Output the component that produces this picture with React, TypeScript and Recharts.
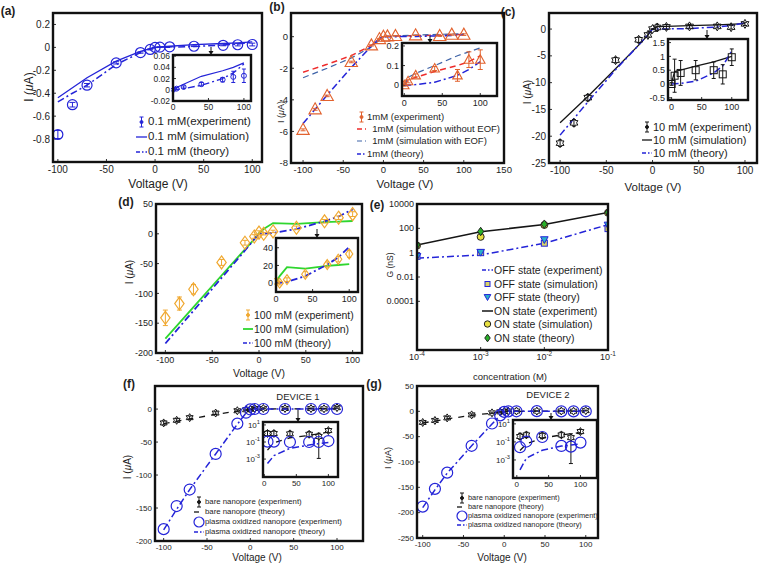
import React from 'react';
import { ComposedChart, Line, Scatter, XAxis, YAxis, ErrorBar } from 'recharts';

const FONT = '"Liberation Sans", Arial, Helvetica, sans-serif';
const INK = '#1e1e1e';
const BLUE = '#2424d8';
const BLACK = '#151515';
const RED = '#ee2b2b';
const ORANGE_RED = '#e2622e';
const STEEL = '#3f64a8';
const ORANGE = '#f0a830';
const GREEN = '#2fd62f';
const DASHDOT = '7 3 2 3';
const DASH = '6 4';

// ---------- shared ticks ----------
const voltTicks = [-100, -50, 0, 50, 100];
const insetVTicks = [0, 50, 100];

// ---------- (a) 0.1 mM ----------
const aExpV = [-100, -85, -70, -40, -15, -5, 0, 5, 15, 40, 70, 85, 100];
const aExpI = [-0.76, -0.5, -0.33, -0.135, -0.045, -0.018, 0, 0.002, 0.005, 0.01, 0.018, 0.023, 0.025];
const aExpErr = [0.035, 0.02, 0.015, 0.01, 0.006, 0.004, 0.002, 0.002, 0.002, 0.003, 0.004, 0.01, 0.012];
const aSimV = [-100, -70, -40, -15, -5, 0, 5, 15, 40, 70, 85, 100];
const aSimI = [-0.44, -0.265, -0.12, -0.035, -0.01, 0, 0.004, 0.01, 0.024, 0.034, 0.04, 0.048];
const aThV = [-100, -85, -70, -40, -15, -5, 0, 5, 15, 40, 70, 85, 100];
const aThI = [-0.475, -0.4, -0.33, -0.15, -0.045, -0.012, 0, 0.0005, 0.002, 0.008, 0.02, 0.03, 0.046];

// ---------- (b) 1 mM ----------
const bExpV = [-100, -85, -70, -40, -15, -5, 0, 5, 15, 40, 70, 85, 100];
const bExpI = [-5.9, -4.6, -3.75, -1.6, -0.55, -0.15, 0, 0.02, 0.05, 0.085, 0.05, 0.13, 0.13];
const bExpErr = [0.06, 0.06, 0.05, 0.05, 0.04, 0.02, 0.005, 0.008, 0.008, 0.01, 0.03, 0.04, 0.05];
const bSimV = [-100, -70, -40, -15, -5, 0, 5, 15, 40, 70, 85, 100];
const bNoEofI = [-2.25, -1.75, -1.2, -0.55, -0.18, 0, 0.027, 0.04, 0.07, 0.1, 0.12, 0.15];
const bEofI = [-2.6, -2.0, -1.35, -0.65, -0.22, 0, 0.04, 0.06, 0.1, 0.15, 0.17, 0.19];
const bThV = [-100, -85, -70, -40, -15, -5, 0, 5, 15, 40, 70, 85, 100];
const bThI = [-5.5, -4.6, -3.7, -1.95, -0.6, -0.12, 0, 0.0005, 0.003, 0.015, 0.05, 0.08, 0.12];
const bXTicks = [-100, -50, 0, 50, 100, 150];

// ---------- (c) 10 mM ----------
const cExpV = [-100, -85, -70, -40, -15, -5, 0, 5, 15, 40, 70, 85, 100];
const cExpI = [-21.3, -17.5, -12.8, -5.8, -2.0, -1.1, 0, 0.3, 0.4, 0.5, 0.5, 0.35, 0.97];
const cExpErr = [0.6, 0.6, 0.6, 0.5, 0.5, 0.4, 0.05, 0.6, 0.45, 0.35, 0.3, 0.35, 0.3];
const cSimV = [-100, -70, -40, -15, -5, 0, 5, 15, 40, 70, 100];
const cSimI = [-17.5, -12.6, -7.4, -3.0, -1.1, 0.05, 0.45, 0.5, 0.65, 0.8, 1.0];
const cThV = [-100, -70, -40, -15, -5, 0, 15, 40, 70, 85, 100];
const cThI = [-19.8, -13.6, -7.6, -3.0, -1.0, 0, 0.02, 0.1, 0.4, 0.65, 1.2];

// ---------- (d) 100 mM ----------
const dExpV = [-100, -85, -70, -40, -15, -5, 0, 5, 15, 40, 70, 85, 100];
const dExpI = [-141, -117, -93, -48, -15, -4.5, 2, 0, 4, 10, 21, 27, 33];
const dExpErr = [13, 11, 8, 5, 4, 3, 3, 2, 2, 3, 3, 3, 4];
const dSimV = [-100, -70, -40, -15, -5, 0, 5, 15, 40, 70, 85, 100];
const dSimI = [-176, -123, -70, -26, -9, 1, 8, 18, 16.5, 19.5, 20.5, 21.5];
const dThV = [-100, -70, -40, -15, -5, 0, 5, 15, 40, 70, 85, 100];
const dThI = [-184, -129, -74, -28, -9, 0, 0.3, 1.5, 8, 21, 29, 41];

// ---------- (e) conductance ----------
const eConc = [1e-4, 1e-3, 1e-2, 1e-1];
const offExp = [0.35, 0.65, 5.9, 200];
const offSim = [0.5, 1.0, 6, 95];
const offTh = [0.5, 1.1, 12, 190];
const onExp = [4.3, 52, 210, 2000];
const onSim = [3.8, 20, 190, 1900];
const onTh = [4.3, 55, 220, 2100];

// ---------- (f), (g) devices ----------
const nV = [-100, -85, -70, -40, -15, -5, 0];
const pV = [5, 15, 40, 70, 85, 100];
const thNV = [-100, -70, -40, -15, -5, 0];

const fBareNeg = [-21, -17, -13, -6, -2.5, -1, -0.3];
const fBareNegErr = [3, 2.5, 2.5, 2, 1.5, 1, 0.5];
const fBarePos = [1.0, 1.0, 0.9, 0.8, 0.45, 2.2];
const fBarePosErr: [number, number][] = [[0.5, 1.2], [0.5, 1.0], [0.4, 0.9], [0.4, 0.8], [0.4488, 0.6], [1.0, 1.5]];
const fBareThNeg = [-22, -15, -8, -3, -1, 0];
const fBareThPos = [0.011, 0.08, 0.3, 0.62, 0.9, 1.5];
const fPlasNeg = [-182, -147, -122, -68, -22, -5.5, -0.5];
const fPlasPos = [0.11, 0.11, 0.1, 0.1, 0.1, 0.13];
const fPlasThNeg = [-183, -152, -122, -68, -23, -6, 0];
const fPlasThPos = [3e-4, 2.5e-3, 0.018, 0.045, 0.065, 0.085];

const gBareNeg = [-22, -18, -13, -7, -3, -1, -0.3];
const gBareNegErr = [3, 2.5, 2.5, 2, 1.5, 1, 0.5];
const gBarePos = [0.4, 0.6, 0.5, 0.6, 0.3, 1.4];
const gBarePosErr: [number, number][] = [[0.2, 0.5], [0.3, 0.6], [0.25, 0.5], [0.3, 0.6], [0.2996, 0.5], [0.6, 1.0]];
const gBareThNeg = [-23, -15, -8, -3.5, -1.2, 0];
const gBareThPos = [0.011, 0.06, 0.26, 0.6, 0.8, 1.1];
const gPlasNeg = [-188, -153, -121, -68, -24, -8, -1];
const gPlasPos = [0.026, 0.11, 0.35, 0.036, 0.03, 0.085];
const gPlasThNeg = [-190, -155, -122, -68, -25, -8, 0];
const gPlasThPos = [8e-5, 1.6e-3, 0.012, 0.035, 0.045, 0.06];

// ---------- helpers ----------
type P = { x: number; y: number; e?: number | [number, number] };
const zip = (xs: number[], ys: number[], es?: (number | [number, number])[]): P[] =>
  xs.map((x, i) => (es ? { x, y: ys[i], e: es[i] } : { x, y: ys[i] }));
const from0 = (p: P[]) => p.filter((d) => d.x >= 0);
const above0 = (p: P[]) => p.filter((d) => d.x > 0);

function Mark({ cx, cy, shape, r, color, fill = 'none', sw = 1 }: any) {
  if (cx == null || cy == null || isNaN(cx) || isNaN(cy)) return null;
  const poly = (pts: number[][]) => (
    <polygon points={pts.map((p) => `${cx + p[0]},${cy + p[1]}`).join(' ')} fill={fill} stroke={color} strokeWidth={sw} />
  );
  switch (shape) {
    case 'circle':
      return <circle cx={cx} cy={cy} r={r} fill={fill} stroke={color} strokeWidth={sw} />;
    case 'square':
      return <rect x={cx - r} y={cy - r} width={2 * r} height={2 * r} fill={fill} stroke={color} strokeWidth={sw} />;
    case 'tri':
      return poly([[0, -r], [r * 0.95, r * 0.7], [-r * 0.95, r * 0.7]]);
    case 'dtri':
      return poly([[0, r], [r * 0.95, -r * 0.7], [-r * 0.95, -r * 0.7]]);
    case 'diamond':
      return poly([[0, -r], [r * 0.72, 0], [0, r], [-r * 0.72, 0]]);
    case 'hex': {
      const pts: number[][] = [];
      for (let k = 0; k < 12; k++) {
        const a = -Math.PI / 2 + (k * Math.PI) / 6;
        const rr = k % 2 === 0 ? r : r * 0.58;
        pts.push([rr * Math.cos(a), rr * Math.sin(a)]);
      }
      return poly(pts);
    }
    default:
      return <circle cx={cx} cy={cy} r={r} fill={color} />;
  }
}

const sup = (v: number, fs: number) => {
  const e = Math.round(Math.log10(v));
  return (
    <>
      10<tspan dy={-fs * 0.45} fontSize={fs * 0.72}>{e}</tspan>
    </>
  );
};

const mkTick = (fs: number, side: 'b' | 'l', fmt?: (v: number, fs: number) => React.ReactNode) => (p: any) => {
  const v = p.payload?.value;
  return (
    <text x={p.x} y={p.y} textAnchor={side === 'b' ? 'middle' : 'end'} dy={side === 'b' ? '0.75em' : '0.35em'} fontSize={fs} fontFamily={FONT} fill={INK}>
      {fmt ? fmt(v, fs) : String(v)}
    </text>
  );
};
const noTick = () => <g />;

type Series =
  | { kind: 'line'; pts: P[]; color: string; dash?: string; w?: number }
  | { kind: 'pts'; pts: P[]; color: string; shape: string; r: number; fill?: string; sw?: number; err?: boolean; cap?: number };

function Plot(pr: {
  x: number; y: number; w: number; h: number;
  xd: [number, number]; yd: [number, number]; xt: number[]; yt: number[];
  xlog?: boolean; ylog?: boolean; fs: number;
  xfmt?: (v: number, fs: number) => React.ReactNode; yfmt?: (v: number, fs: number) => React.ReactNode;
  series: Series[]; mL?: number; mB?: number; mR?: number;
}) {
  const mL = pr.mL ?? 44, mB = pr.mB ?? 20, mT = 9, mR = pr.mR ?? 16;
  const W = pr.w + mL + mR, H = pr.h + mT + mB;
  const xs = pr.xlog ? 'log' : 'linear';
  const ys = pr.ylog ? 'log' : 'linear';
  const tl = { stroke: '#333', strokeWidth: 1 };
  return (
    <div style={{ position: 'absolute', left: pr.x - mL, top: pr.y - mT, width: W, height: H }}>
      <ComposedChart width={W} height={H} margin={{ top: mT, right: mR, bottom: 0, left: 0 }}>
        <XAxis type="number" dataKey="x" domain={pr.xd} ticks={pr.xt} scale={xs} allowDataOverflow interval={0}
          axisLine={false} tickLine={tl} tickSize={-3} tickMargin={6} height={mB} tick={mkTick(pr.fs, 'b', pr.xfmt)} />
        <YAxis type="number" dataKey="y" domain={pr.yd} ticks={pr.yt} scale={ys} allowDataOverflow interval={0}
          axisLine={false} tickLine={tl} tickSize={-3} tickMargin={6} width={mL} tick={mkTick(pr.fs, 'l', pr.yfmt)} />
        <XAxis xAxisId="top" orientation="top" type="number" domain={pr.xd} ticks={pr.xt} scale={xs} allowDataOverflow interval={0}
          axisLine={false} tickLine={tl} tickSize={-3} height={0} tick={noTick} />
        <YAxis yAxisId="right" orientation="right" type="number" domain={pr.yd} ticks={pr.yt} scale={ys} allowDataOverflow interval={0}
          axisLine={false} tickLine={tl} tickSize={-3} width={0} tick={noTick} />
        {pr.series.map((s, i) =>
          s.kind === 'line' ? (
            <Line key={i} data={s.pts} dataKey="y" type="linear" stroke={s.color} strokeWidth={s.w ?? 1.5}
              strokeDasharray={s.dash} dot={false} activeDot={false} isAnimationActive={false} />
          ) : (
            <Scatter key={i} data={s.pts} isAnimationActive={false}
              shape={(p: any) => <Mark cx={p.cx} cy={p.cy} shape={s.shape} r={s.r} color={s.color} fill={s.fill} sw={s.sw} />}>
              {s.err ? <ErrorBar dataKey="e" direction="y" width={s.cap ?? 3} stroke={s.color} strokeWidth={1} /> : null}
            </Scatter>
          )
        )}
      </ComposedChart>
    </div>
  );
}

const Frame = ({ x, y, w, h, sw = 2.4 }: any) => (
  <svg style={{ position: 'absolute', left: x - 4, top: y - 4, overflow: 'visible', pointerEvents: 'none' }} width={w + 8} height={h + 8}>
    <rect x={4} y={4} width={w} height={h} fill="none" stroke="#111" strokeWidth={sw} />
  </svg>
);
const Bg = ({ x, y, w, h }: any) => (
  <div style={{ position: 'absolute', left: x, top: y, width: w, height: h, background: '#fff' }} />
);
const Lab = ({ x, y, fs, children, bold, rot }: any) => (
  <div style={{ position: 'absolute', left: x, top: y, transform: `translate(-50%, -50%)${rot ? ' rotate(-90deg)' : ''}`,
    fontSize: fs, fontWeight: bold ? 700 : 400, lineHeight: 1, whiteSpace: 'pre', color: INK }}>{children}</div>
);
const IuA = () => (<>I (<i>μ</i>A)</>);
const Arrow = ({ x, y1, y2 }: any) => (
  <svg style={{ position: 'absolute', left: x - 4, top: y1, overflow: 'visible' }} width={8} height={y2 - y1}>
    <line x1={4} x2={4} y1={0} y2={y2 - y1 - 3} stroke="#111" strokeWidth={1} />
    <polygon points={`1.5,${y2 - y1 - 4} 6.5,${y2 - y1 - 4} 4,${y2 - y1}`} fill="#111" />
  </svg>
);

type Icon =
  | { t: 'line'; color: string; dash?: string; w?: number }
  | { t: 'mark'; shape: string; color: string; fill?: string; r: number; sw?: number }
  | { t: 'err'; color: string };
const LegendIcon = ({ ic, w }: { ic: Icon; w: number }) => {
  const c = 7;
  return (
    <svg width={w} height={14} style={{ display: 'block', overflow: 'visible' }}>
      {ic.t === 'line' && <line x1={0} x2={w} y1={c} y2={c} stroke={ic.color} strokeWidth={ic.w ?? 1.5} strokeDasharray={ic.dash} />}
      {ic.t === 'mark' && <Mark cx={w / 2} cy={c} shape={ic.shape} r={ic.r} color={ic.color} fill={ic.fill} sw={ic.sw} />}
      {ic.t === 'err' && (
        <g stroke={ic.color} strokeWidth={1}>
          <line x1={w / 2} x2={w / 2} y1={c - 5} y2={c + 5} />
          <line x1={w / 2 - 2} x2={w / 2 + 2} y1={c - 5} y2={c - 5} />
          <line x1={w / 2 - 2} x2={w / 2 + 2} y1={c + 5} y2={c + 5} />
          <circle cx={w / 2} cy={c} r={1.5} fill={ic.color} />
        </g>
      )}
    </svg>
  );
};
function Legend({ x, tx, rows, fs, items }: { x: number; tx: number; rows: number[]; fs: number; items: { icon: Icon; label: string }[] }) {
  return (
    <>
      {items.map((it, i) => (
        <React.Fragment key={i}>
          <div style={{ position: 'absolute', left: x, top: rows[i] - 7, width: tx - x - 1, height: 14 }}>
            <LegendIcon ic={it.icon} w={tx - x - 1} />
          </div>
          <div style={{ position: 'absolute', left: tx, top: rows[i], transform: 'translateY(-50%)', fontSize: fs, lineHeight: 1, whiteSpace: 'pre', color: INK }}>
            {it.label}
          </div>
        </React.Fragment>
      ))}
    </>
  );
}

// ---------- series ----------
const aExp = zip(aExpV, aExpI, aExpErr);
const aSim = zip(aSimV, aSimI);
const aTh = zip(aThV, aThI);
const bExp = zip(bExpV, bExpI, bExpErr);
const bNoEof = zip(bSimV, bNoEofI);
const bEof = zip(bSimV, bEofI);
const bTh = zip(bThV, bThI);
const cExp = zip(cExpV, cExpI, cExpErr);
const cSim = zip(cSimV, cSimI);
const cTh = zip(cThV, cThI);
const dExp = zip(dExpV, dExpI, dExpErr);
const dSim = zip(dSimV, dSimI);
const dTh = zip(dThV, dThI);

const fBare = zip(nV.concat(pV), fBareNeg.concat(fBarePos), (fBareNegErr as (number | [number, number])[]).concat(fBarePosErr));
const fBareTh = zip(thNV.concat(pV), fBareThNeg.concat(fBareThPos));
const fPlas = zip(nV.concat(pV), fPlasNeg.concat(fPlasPos));
const fPlasTh = zip(nV.concat(pV), fPlasThNeg.concat(fPlasThPos));
const gBare = zip(nV.concat(pV), gBareNeg.concat(gBarePos), (gBareNegErr as (number | [number, number])[]).concat(gBarePosErr));
const gBareTh = zip(thNV.concat(pV), gBareThNeg.concat(gBareThPos));
const gPlas = zip(nV.concat(pV), gPlasNeg.concat(gPlasPos));
const gPlasTh = zip(nV.concat(pV), gPlasThNeg.concat(gPlasThPos));

const devSeries = (bare: P[], bareTh: P[], plas: P[], plasTh: P[], inset: boolean): Series[] => [
  { kind: 'line', pts: inset ? above0(bareTh) : bareTh, color: BLACK, dash: '6 6', w: 1.3 },
  { kind: 'pts', pts: inset ? above0(bare) : bare, color: BLACK, shape: 'hex', r: 4, err: true, cap: 2 },
  { kind: 'line', pts: inset ? above0(plasTh) : plasTh, color: BLUE, dash: DASHDOT, w: 1.5 },
  { kind: 'pts', pts: inset ? above0(plas) : plas, color: BLUE, shape: 'circle', r: 5.5, sw: 1.2 },
];

export default function App() {
  return (
    <div style={{ position: 'absolute', left: 0, top: 0, width: 760, height: 566, background: '#fff', overflow: 'hidden', fontFamily: FONT }}>
      {/* ================= (c) first, so (b)'s edge tick label is never covered ================= */}
      <Plot x={549} y={13} w={208} h={150} xd={[-112, 113]} yd={[-25, 3]} xt={voltTicks} yt={[-25, -20, -15, -10, -5, 0]} fs={10} mL={32} mR={3}
        series={[
          { kind: 'line', pts: cSim, color: BLACK, w: 1.3 },
          { kind: 'line', pts: cTh, color: BLUE, dash: DASHDOT, w: 1.5 },
          { kind: 'pts', pts: cExp, color: BLACK, shape: 'hex', r: 4.5, sw: 1, err: true, cap: 2 },
        ]} />
      <Frame x={549} y={13} w={208} h={150} />
      <Bg x={668} y={39} w={80} h={61} />
      <Plot x={668} y={39} w={80} h={61} xd={[-6, 127]} yd={[-0.58, 1.63]} xt={insetVTicks} yt={[-0.5, 0, 0.5, 1, 1.5]} fs={9} mL={26} mB={14} mR={8}
        series={[
          { kind: 'line', pts: from0(cSim), color: BLACK, w: 1.3 },
          { kind: 'line', pts: from0(cTh), color: BLUE, dash: DASHDOT, w: 1.5 },
          { kind: 'pts', pts: from0(cExp), color: BLACK, shape: 'square', r: 3.5, sw: 1, err: true, cap: 2 },
        ]} />
      <Frame x={668} y={39} w={80} h={61} />
      <Arrow x={707} y1={30} y2={39} />
      <Legend x={642} tx={653} rows={[127, 140, 153]} fs={11}
        items={[
          { icon: { t: 'err', color: BLACK }, label: '10 mM (experiment)' },
          { icon: { t: 'line', color: BLACK, w: 1.3 }, label: '10 mM (simulation)' },
          { icon: { t: 'line', color: BLUE, dash: '4 2 1.5 2' }, label: '10 mM (theory)' },
        ]} />
      <Lab x={508} y={12} fs={12} bold>(c)</Lab>
      <Lab x={528} y={92} fs={10} rot><IuA /></Lab>
      <Lab x={653} y={188} fs={11.5}>Voltage (V)</Lab>

      {/* ================= (a) ================= */}
      <Plot x={53} y={13} w={209} h={149} xd={[-105, 110]} yd={[-1, 0.3]} xt={voltTicks} yt={[-0.8, -0.6, -0.4, -0.2, 0, 0.2]} fs={10}
        series={[
          { kind: 'line', pts: aSim, color: BLUE, w: 1.3 },
          { kind: 'line', pts: aTh, color: BLUE, dash: DASHDOT, w: 1.5 },
          { kind: 'pts', pts: aExp, color: BLUE, shape: 'circle', r: 5, sw: 1.2, err: true, cap: 3 },
        ]} />
      <Frame x={53} y={13} w={209} h={149} />
      <Bg x={173} y={55} w={78} h={46} />
      <Plot x={173} y={55} w={78} h={46} xd={[0, 110]} yd={[-0.02, 0.062]} xt={insetVTicks} yt={[-0.02, 0, 0.02, 0.04, 0.06]} fs={8.5} mL={28} mB={14}
        series={[
          { kind: 'line', pts: from0(aSim), color: BLUE, w: 1.2 },
          { kind: 'line', pts: from0(aTh), color: BLUE, dash: DASHDOT, w: 1.4 },
          { kind: 'pts', pts: from0(aExp), color: BLUE, shape: 'circle', r: 2.5, sw: 1, err: true, cap: 2 },
        ]} />
      <Frame x={173} y={55} w={78} h={46} />
      <Arrow x={211} y1={47} y2={55} />
      <Legend x={136} tx={148} rows={[122, 137, 152]} fs={11.5}
        items={[
          { icon: { t: 'err', color: BLUE }, label: '0.1 mM(experiment)' },
          { icon: { t: 'line', color: BLUE, w: 1.3 }, label: '0.1 mM (simulation)' },
          { icon: { t: 'line', color: BLUE, dash: '4 2 1.5 2' }, label: '0.1 mM (theory)' },
        ]} />
      <Lab x={8} y={11} fs={12} bold>(a)</Lab>
      <Lab x={29} y={87} fs={12} rot><IuA /></Lab>
      <Lab x={158} y={184} fs={12}>Voltage (V)</Lab>

      {/* ================= (b) ================= */}
      <Plot x={291} y={13} w={213} h={150} xd={[-115, 150]} yd={[-8, 1.5]} xt={bXTicks} yt={[-8, -6, -4, -2, 0]} fs={9.5} mR={20}
        series={[
          { kind: 'line', pts: bNoEof, color: RED, dash: DASH, w: 1.5 },
          { kind: 'line', pts: bEof, color: STEEL, dash: DASH, w: 1.2 },
          { kind: 'line', pts: bTh, color: BLUE, dash: DASHDOT, w: 1.5 },
          { kind: 'pts', pts: bExp, color: ORANGE_RED, shape: 'tri', r: 6.5, sw: 1.1, err: true, cap: 2.5 },
        ]} />
      <Frame x={291} y={13} w={213} h={150} />
      <Bg x={402} y={43} w={95} h={53} />
      <Plot x={402} y={43} w={95} h={53} xd={[-3, 122]} yd={[-0.055, 0.215]} xt={insetVTicks} yt={[0, 0.1, 0.2]} fs={9} mL={26} mB={14}
        series={[
          { kind: 'line', pts: from0(bNoEof), color: RED, dash: DASH, w: 1.5 },
          { kind: 'line', pts: from0(bEof), color: STEEL, dash: DASH, w: 1.2 },
          { kind: 'line', pts: from0(bTh), color: BLUE, dash: DASHDOT, w: 1.5 },
          { kind: 'pts', pts: from0(bExp), color: ORANGE_RED, shape: 'tri', r: 5, sw: 1.1, err: true, cap: 2.5 },
        ]} />
      <Frame x={402} y={43} w={95} h={53} />
      <Arrow x={430} y1={36} y2={43} />
      <Legend x={357} tx={367} rows={[117, 129, 141, 154]} fs={9.5}
        items={[
          { icon: { t: 'err', color: ORANGE_RED }, label: '1mM (experiment)' },
          { icon: { t: 'line', color: RED, dash: '5 3', w: 1.5 }, label: '  1mM (simulation without EOF)' },
          { icon: { t: 'line', color: STEEL, dash: '5 3', w: 1.2 }, label: '  1mM (simulation with EOF)' },
          { icon: { t: 'line', color: BLUE, dash: '4 2 1.5 2' }, label: '1mM (theory)' },
        ]} />
      <Lab x={277} y={7} fs={12} bold>(b)</Lab>
      <Lab x={281} y={112} fs={9} rot><IuA /></Lab>
      <Lab x={405} y={185} fs={11.5}>Voltage (V)</Lab>

      {/* ================= (d) ================= */}
      <Plot x={156} y={204} w={206} h={149} xd={[-110, 110]} yd={[-200, 50]} xt={voltTicks} yt={[-200, -150, -100, -50, 0, 50]} fs={9}
        series={[
          { kind: 'line', pts: dSim, color: GREEN, w: 1.8 },
          { kind: 'line', pts: dTh, color: BLUE, dash: DASHDOT, w: 1.8 },
          { kind: 'pts', pts: dExp, color: ORANGE, shape: 'diamond', r: 6.5, sw: 1.2, err: true, cap: 2.5 },
        ]} />
      <Frame x={156} y={204} w={206} h={149} />
      <Bg x={276} y={238} w={82} h={54} />
      <Plot x={276} y={238} w={82} h={54} xd={[0, 112]} yd={[-10, 51]} xt={insetVTicks} yt={[0, 20, 40]} fs={9} mL={24} mB={14}
        series={[
          { kind: 'line', pts: from0(dSim), color: GREEN, w: 1.8 },
          { kind: 'line', pts: from0(dTh), color: BLUE, dash: DASHDOT, w: 1.8 },
          { kind: 'pts', pts: from0(dExp), color: ORANGE, shape: 'diamond', r: 5, sw: 1.1, err: true, cap: 2 },
        ]} />
      <Frame x={276} y={238} w={82} h={54} />
      <Arrow x={317} y1={229} y2={238} />
      <Legend x={243} tx={254} rows={[315, 329, 343]} fs={10.5}
        items={[
          { icon: { t: 'err', color: ORANGE }, label: '100 mM (experiment)' },
          { icon: { t: 'line', color: GREEN, w: 1.8 }, label: '100 mM (simulation)' },
          { icon: { t: 'line', color: BLUE, dash: '4 2 1.5 2' }, label: '100 mM (theory)' },
        ]} />
      <Lab x={126} y={202} fs={12} bold>(d)</Lab>
      <Lab x={130} y={272} fs={10} rot><IuA /></Lab>
      <Lab x={259} y={373} fs={10.5}>Voltage (V)</Lab>

      {/* ================= (e) ================= */}
      <Plot x={417} y={204} w={191} h={146} xd={[1e-4, 1e-1]} yd={[1e-8, 1e4]} xlog ylog xt={eConc} yt={[1e-4, 1e-2, 1, 100, 1e4]} fs={9}
        xfmt={sup}
        series={[
          { kind: 'line', pts: zip(eConc, offExp), color: BLUE, dash: DASHDOT, w: 1.5 },
          { kind: 'line', pts: zip(eConc, onExp), color: BLACK, w: 1.5 },
          { kind: 'pts', pts: zip(eConc, offSim), color: BLUE, shape: 'square', r: 3, fill: '#d8d468', sw: 1 },
          { kind: 'pts', pts: zip(eConc, offTh), color: BLUE, shape: 'dtri', r: 4, fill: '#2ab0c8', sw: 1 },
          { kind: 'pts', pts: zip(eConc, onSim), color: '#222', shape: 'circle', r: 3.5, fill: '#e8e040', sw: 1 },
          { kind: 'pts', pts: zip(eConc, onTh), color: '#222', shape: 'diamond', r: 4.2, fill: '#28b028', sw: 1 },
        ]} />
      <Frame x={417} y={204} w={191} h={146} />
      <Legend x={482} tx={494} rows={[270, 283.5, 297, 310.5, 324, 337.5]} fs={10.5}
        items={[
          { icon: { t: 'line', color: BLUE, dash: '4 2 1.5 2' }, label: 'OFF state (experiment)' },
          { icon: { t: 'mark', shape: 'square', color: BLUE, fill: '#d8d468', r: 2.5 }, label: 'OFF state (simulation)' },
          { icon: { t: 'mark', shape: 'dtri', color: BLUE, fill: '#2ab0c8', r: 3.5 }, label: 'OFF state (theory)' },
          { icon: { t: 'line', color: BLACK, w: 1.5 }, label: 'ON state (experiment)' },
          { icon: { t: 'mark', shape: 'circle', color: '#222', fill: '#e8e040', r: 3.2 }, label: 'ON state (simulation)' },
          { icon: { t: 'mark', shape: 'diamond', color: '#222', fill: '#28b028', r: 3.8 }, label: 'ON state (theory)' },
        ]} />
      <Lab x={377} y={205} fs={12} bold>(e)</Lab>
      <Lab x={390} y={265} fs={8.5} rot>G (nS)</Lab>
      <Lab x={510} y={377} fs={9.5}>concentration (M)</Lab>

      {/* ================= (f) ================= */}
      <Plot x={155} y={386} w={208} h={155} xd={[-110, 130]} yd={[-200, 35]} xt={voltTicks} yt={[-200, -150, -100, -50, 0]} fs={8}
        series={devSeries(fBare, fBareTh, fPlas, fPlasTh, false)} />
      <Frame x={155} y={386} w={208} h={155} />
      <Bg x={263} y={422} w={75} h={55} />
      <Plot x={263} y={422} w={75} h={55} xd={[-2, 115]} yd={[8e-6, 22]} ylog xt={insetVTicks} yt={[1e-3, 1e-1, 10]} fs={8} yfmt={sup} mL={26} mB={14}
        series={devSeries(fBare, fBareTh, fPlas, fPlasTh, true)} />
      <Frame x={263} y={422} w={75} h={55} />
      <Arrow x={298} y1={410} y2={422} />
      <Lab x={298} y={397} fs={9.5}>DEVICE 1</Lab>
      <Legend x={194} tx={205} rows={[502, 512, 522, 532]} fs={7.8}
        items={[
          { icon: { t: 'err', color: BLACK }, label: 'bare nanopore (experiment)' },
          { icon: { t: 'line', color: BLACK, w: 1.3, dash: '5 20' }, label: 'bare nanopore (theory)' },
          { icon: { t: 'mark', shape: 'circle', color: BLUE, r: 5, sw: 1.2 }, label: 'plasma oxidized nanopore (experiment)' },
          { icon: { t: 'line', color: BLUE, dash: '4 2 1.5 2' }, label: 'plasma oxidized nanopore (theory)' },
        ]} />
      <Lab x={129} y={384} fs={12} bold>(f)</Lab>
      <Lab x={128} y={467} fs={10} rot><IuA /></Lab>
      <Lab x={257} y={558} fs={10}>Voltage (V)</Lab>

      {/* ================= (g) ================= */}
      <Plot x={417} y={386} w={181} h={152} xd={[-107, 115]} yd={[-250, 50]} xt={voltTicks} yt={[-250, -200, -150, -100, -50, 0, 50]} fs={8}
        series={devSeries(gBare, gBareTh, gPlas, gPlasTh, false)} />
      <Frame x={417} y={386} w={181} h={152} />
      <Bg x={513} y={420} w={84} h={58} />
      <Plot x={513} y={420} w={84} h={58} xd={[-6, 126]} yd={[1e-5, 27]} ylog xt={insetVTicks} yt={[1e-3, 1e-1, 10]} fs={8} yfmt={sup} mL={26} mB={14}
        series={devSeries(gBare, gBareTh, gPlas, gPlasTh, true)} />
      <Frame x={513} y={420} w={84} h={58} />
      <Arrow x={551} y1={413} y2={420} />
      <Lab x={548} y={395} fs={9.5}>DEVICE 2</Lab>
      <Legend x={457} tx={468} rows={[498, 507, 516, 525]} fs={7.4}
        items={[
          { icon: { t: 'err', color: BLACK }, label: 'bare nanopore (experiment)' },
          { icon: { t: 'line', color: BLACK, w: 1.3, dash: '5 20' }, label: 'bare nanopore (theory)' },
          { icon: { t: 'mark', shape: 'circle', color: BLUE, r: 5, sw: 1.2 }, label: 'plasma oxidized nanopore (experiment)' },
          { icon: { t: 'line', color: BLUE, dash: '4 2 1.5 2' }, label: 'plasma oxidized nanopore (theory)' },
        ]} />
      <Lab x={374} y={384} fs={12} bold>(g)</Lab>
      <Lab x={388} y={458} fs={9} rot><IuA /></Lab>
      <Lab x={502} y={558} fs={10}>Voltage (V)</Lab>
    </div>
  );
}
